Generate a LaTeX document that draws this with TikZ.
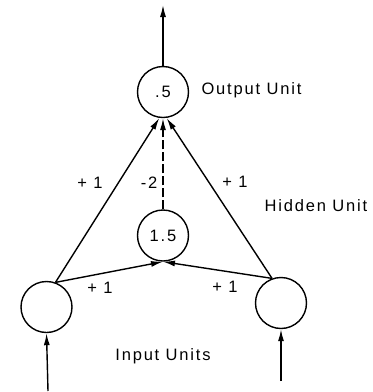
\documentclass[tikz,border=0pt]{standalone}
\usepackage{fontspec}
\setmainfont{Liberation Sans}[LetterSpace=11]
\usetikzlibrary{arrows.meta}
\begin{document}
\begin{tikzpicture}[x=1pt,y=-1pt,
  unit/.style={circle,draw,line width=1.4pt,minimum size=51pt,inner sep=0pt,font=\fontsize{16.5}{19}\selectfont},
  lbl/.style={inner sep=0pt,font=\fontsize{16.5}{19}\selectfont},
  conn/.style={line width=1.4pt,-{Latex[length=12pt,width=6pt]}},
  dconn/.style={conn,dash pattern=on 9pt off 3pt}]
\useasboundingbox (0,0) rectangle (373,392);
\node[unit] (out) at (163,92) {.5};
\node[unit] (hid) at (163,235.5) {1.5};
\node[unit] (li) at (46.5,307) {};
\node[unit] (ri) at (281,303) {};
\coordinate (top) at (163,5);
\coordinate (lin) at (48,391);
\coordinate (rin) at (281,381);
\draw[conn] (out.north) -- (top);
\draw[conn] (lin) -- (li.south);
\draw[conn] (rin) -- (ri.south);
\draw[conn] (li.70) -- (out.262);
\draw[conn] (ri.110) -- (out.278);
\draw[dconn] (hid.north) -- (out.south);
\draw[conn] (li.70) -- (hid.south);
\draw[conn] (ri.110) -- (hid.south);
\node[lbl] (w1) at (90,183) {+ 1};
\node[lbl] (w2) at (149,183) {-2};
\node[lbl] (w3) at (235,182) {+ 1};
\node[lbl] (w4) at (100,288) {+ 1};
\node[lbl] (w5) at (225,287) {+ 1};
\node[lbl] (lo) at (251.5,90) {Output Unit};
\node[lbl] (lh) at (316,206) {Hidden Unit};
\node[lbl] (lii) at (163,356) {Input Units};
\end{tikzpicture}
\end{document}
